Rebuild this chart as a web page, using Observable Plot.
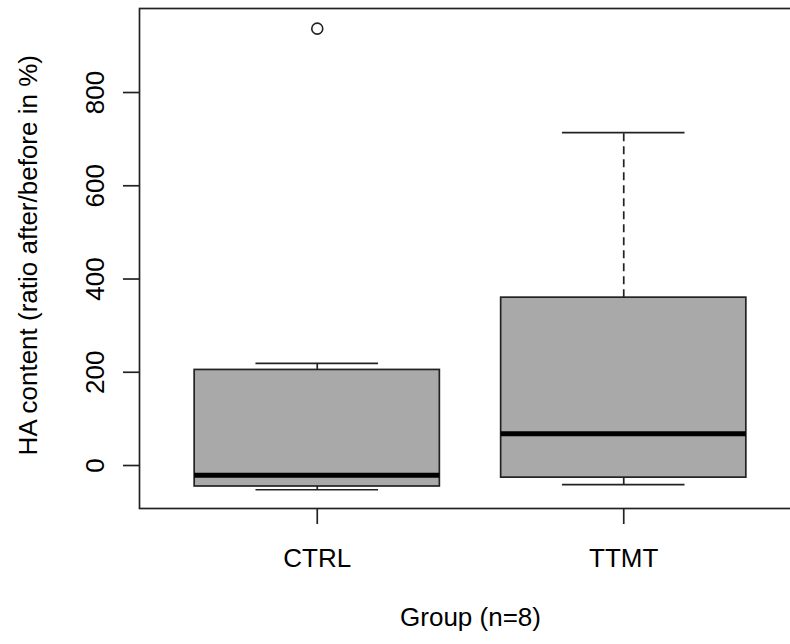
<!DOCTYPE html>
<html>
<head>
<meta charset="utf-8">
<script src="https://cdn.jsdelivr.net/npm/d3@7"></script>
<script src="https://cdn.jsdelivr.net/npm/@observablehq/plot@0.6"></script>
<style>
  html, body { margin: 0; padding: 0; background: white; overflow: hidden; }
  #chart svg { display: block; }
</style>
</head>
<body>
<div id="chart"></div>
<script>
// ---- data ----
const groups = ["CTRL", "TTMT"];
const positions = [1, 2];
const lowerWhisker = [-52, -41];
const q1 = [-45, -26];
const medians = [-21, 68];
const q3 = [205, 360];
const upperWhisker = [219, 714];
const outlierGroup = [1];
const outlierValue = [937];
const yTicks = [0, 200, 400, 600, 800];
const xLabel = "Group (n=8)";
const yLabel = "HA content (ratio after/before in %)";

const stats = groups.map((g, i) => ({
  group: g, pos: positions[i],
  lo: lowerWhisker[i], q1: q1[i], med: medians[i], q3: q3[i], hi: upperWhisker[i]
}));
const outliers = outlierGroup.map((p, i) => ({pos: p, value: outlierValue[i]}));

const boxHalf = 0.4, stapleHalf = 0.2;
const xDomain = [0.42, 2.58];
const yDomain = [-92.2, 980.2];
const font = "Liberation Sans, Arial, Helvetica, sans-serif";
const fs = 26;

const chart = Plot.plot({
  width: 790,
  height: 644,
  marginLeft: 139,
  marginRight: -11,
  marginTop: 8,
  marginBottom: 136,
  style: {fontFamily: font, fontSize: fs + "px", background: "white", overflow: "hidden"},
  x: {domain: xDomain, axis: null},
  y: {domain: yDomain, axis: null},
  marks: [
    // whiskers (dashed)
    Plot.ruleX(stats, {x: "pos", y1: "q3", y2: "hi", stroke: "#222", strokeWidth: 1.7, strokeDasharray: "8,5"}),
    Plot.ruleX(stats, {x: "pos", y1: "lo", y2: "q1", stroke: "#222", strokeWidth: 1.7, strokeDasharray: "8,5"}),
    // staples
    Plot.ruleY(stats, {y: "hi", x1: d => d.pos - stapleHalf, x2: d => d.pos + stapleHalf, stroke: "#222", strokeWidth: 1.7}),
    Plot.ruleY(stats, {y: "lo", x1: d => d.pos - stapleHalf, x2: d => d.pos + stapleHalf, stroke: "#222", strokeWidth: 1.7}),
    // boxes
    Plot.rect(stats, {x1: d => d.pos - boxHalf, x2: d => d.pos + boxHalf, y1: "q1", y2: "q3", fill: "#a9a9a9", stroke: "#222", strokeWidth: 1.7}),
    // medians
    Plot.ruleY(stats, {y: "med", x1: d => d.pos - boxHalf, x2: d => d.pos + boxHalf, stroke: "black", strokeWidth: 5}),
    // outliers
    Plot.dot(outliers, {x: "pos", y: "value", r: 5.5, stroke: "#222", strokeWidth: 1.6, fill: "none"}),
    // frame
    Plot.frame({stroke: "#222", strokeWidth: 1.7}),
    // y axis ticks + labels
    Plot.axisY({ticks: yTicks, tickSize: 16, tickFormat: () => "", label: null, stroke: "#222", strokeWidth: 1.7}),
    Plot.text(yTicks, {y: d => d, text: d => String(d), frameAnchor: "left", dx: -44, rotate: -90, textAnchor: "middle", lineAnchor: "middle", fill: "black", fontSize: fs}),
    // x axis ticks + labels
    Plot.axisX({ticks: positions, tickSize: 16, tickFormat: () => "", label: null, stroke: "#222", strokeWidth: 1.7}),
    Plot.text(stats, {x: "pos", text: "group", frameAnchor: "bottom", dy: 50, textAnchor: "middle", lineAnchor: "middle", fill: "black", fontSize: fs}),
    // axis titles
    Plot.text([xLabel], {x: (xDomain[0] + xDomain[1]) / 2, text: d => d, frameAnchor: "bottom", dy: 109, textAnchor: "middle", lineAnchor: "middle", fill: "black", fontSize: fs}),
    Plot.text([yLabel], {y: (yDomain[0] + yDomain[1]) / 2 + 7, text: d => d, frameAnchor: "left", dx: -111, rotate: -90, textAnchor: "middle", lineAnchor: "middle", fill: "black", fontSize: fs})
  ]
});
document.getElementById("chart").appendChild(chart);
</script>
</body>
</html>
